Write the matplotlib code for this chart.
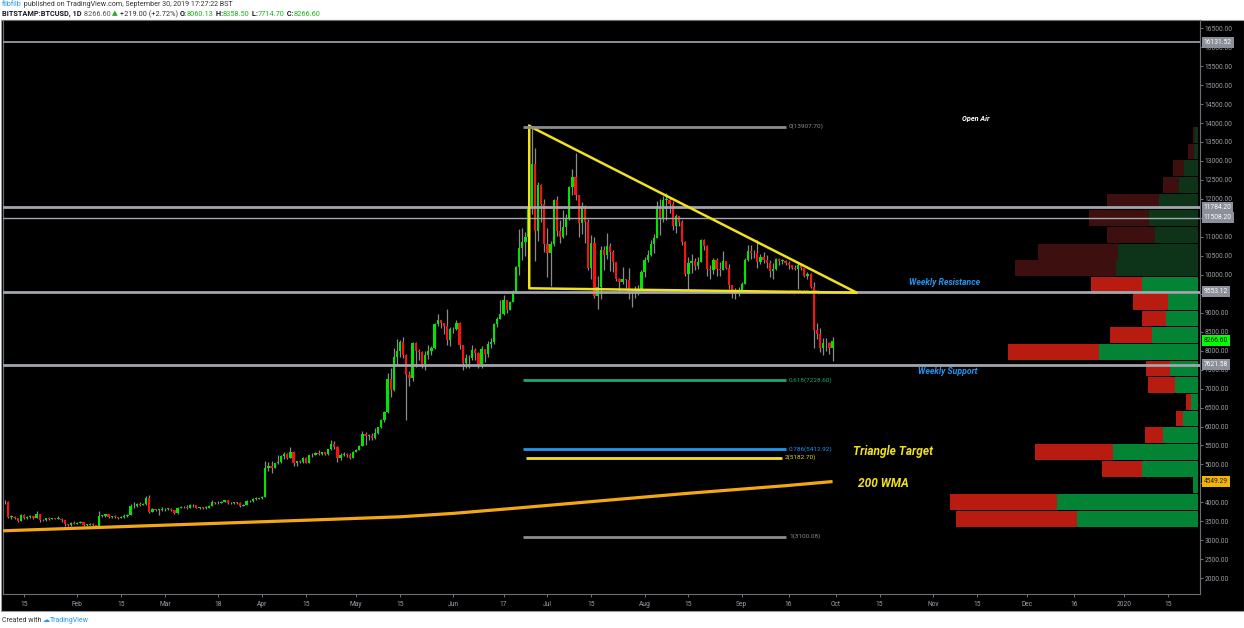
import numpy as np
import pandas as pd
import matplotlib
matplotlib.use("Agg")
import matplotlib.pyplot as plt
import matplotlib.dates as mdates
from matplotlib.patches import Rectangle
from matplotlib.ticker import FuncFormatter
from matplotlib.transforms import blended_transform_factory

plt.rcParams['font.family'] = ['Roboto', 'DejaVu Sans']

# ---- daily candles BITSTAMP:BTCUSD, from 2019-01-08 to 2019-09-30 ----
start_date = "2019-01-08"
first_open = 3990
closes = [
    # Jan 8-31
    4000, 4000, 3620, 3620, 3590, 3500, 3660, 3580, 3610, 3640, 3590, 3690, 3530, 3540, 3580, 3560, 3580, 3570, 3570, 3530, 3430, 3400, 3460, 3440,
    # Feb
    3460, 3490, 3410, 3410, 3440, 3400, 3390, 3650, 3650, 3690, 3610, 3630, 3610, 3590, 3610, 3630, 3680, 3900, 3910, 3970, 3930, 3970, 4120, 3740, 3820, 3800, 3810, 3820,
    # Mar
    3830, 3830, 3800, 3710, 3860, 3870, 3880, 3860, 3940, 3920, 3860, 3870, 3860, 3860, 3910, 4000, 3980, 3990, 4020, 4050, 3980, 3990, 4000, 3990, 3910, 3930, 4040, 4030, 4100, 4100, 4110,
    # Apr
    4140, 4900, 4970, 4910, 5030, 5060, 5210, 5280, 5180, 5330, 5030, 5080, 5070, 5170, 5050, 5240, 5260, 5310, 5280, 5320, 5280, 5400, 5540, 5450, 5170, 5250, 5270, 5250, 5180, 5340,
    # May
    5390, 5490, 5800, 5750, 5760, 5690, 5830, 5990, 6170, 6380, 7240, 6950, 7820, 7990, 8220, 7880, 7360, 7270, 8200, 7980, 7970, 7640, 7890, 8000, 8070, 8710, 8800, 8730, 8660, 8280, 8560,
    # Jun
    8560, 8740, 8150, 7680, 7800, 7800, 8010, 7940, 7640, 8030, 7920, 8180, 8240, 8690, 8830, 8960, 9330, 9080, 9280, 9530, 10200, 10700, 10860, 11000, 11750, 12930, 11150, 12370, 11870, 10810,
    # Jul
    10580, 10800, 11970, 11160, 10990, 11250, 11480, 12300, 12580, 12100, 11360, 11810, 11380, 10190, 10850, 9430, 9680, 10640, 10530, 10760, 10590, 10330, 9880, 9800, 9890, 9860, 9480, 9540, 9520, 9600, 10080,
    # Aug
    10400, 10530, 10820, 10970, 11800, 11460, 11980, 11980, 11870, 11290, 11560, 11400, 10860, 10020, 10300, 10360, 10220, 10330, 10920, 10760, 10140, 10130, 10400, 10140, 10130, 10370, 10190, 9720, 9490, 9580, 9590,
    # Sep
    9760, 10390, 10620, 10570, 10570, 10330, 10480, 10400, 10310, 10100, 10160, 10420, 10360, 10360, 10310, 10270, 10190, 10160, 10270, 10170, 9980, 10030, 9690, 8540, 8440, 8070, 8190, 8210, 8060.13, 8266.60,
]
highs = [
    4100, 4050, 4030, 3680, 3640, 3600, 3690, 3690, 3650, 3660, 3650, 3770, 3700, 3570, 3600, 3620, 3600, 3590, 3650, 3580, 3540, 3440, 3480, 3500,
    3480, 3510, 3490, 3430, 3460, 3450, 3410, 3780, 3680, 3700, 3690, 3650, 3660, 3620, 3650, 3690, 3700, 3950, 4000, 3990, 4000, 3990, 4160, 4190, 3850, 3830, 3830, 3880,
    3860, 3850, 3840, 3810, 3880, 3910, 3910, 3920, 3950, 3950, 3940, 3880, 3890, 3900, 3930, 4070, 4010, 4040, 4040, 4070, 4070, 4010, 4010, 4000, 4000, 3960, 4060, 4050, 4120, 4130, 4120,
    4160, 5100, 5060, 5100, 5050, 5240, 5250, 5340, 5290, 5460, 5350, 5100, 5110, 5190, 5200, 5260, 5310, 5340, 5380, 5340, 5340, 5410, 5640, 5620, 5490, 5290, 5330, 5300, 5290, 5350,
    5410, 5520, 5880, 5850, 5790, 5820, 5950, 6000, 6200, 6400, 7400, 7540, 8080, 8300, 8290, 8360, 7900, 7460, 8230, 8220, 8040, 7990, 7980, 8150, 8120, 8730, 8960, 8800, 8730, 9100, 8620,
    8620, 8820, 8750, 8160, 7920, 7880, 8150, 8060, 7960, 8120, 8050, 8250, 8330, 8740, 8880, 9330, 9470, 9340, 9300, 9600, 10230, 11200, 11240, 11130, 11780, 13880, 13330, 12450, 12400, 12000,
    11220, 10900, 12000, 12070, 11450, 11700, 11590, 12350, 12800, 13200, 12100, 11930, 11840, 11480, 11050, 11000, 9970, 10750, 10750, 11100, 10830, 10660, 10340, 9920, 10200, 9900, 10190, 9600, 9700, 9720, 10120,
    10460, 10660, 10920, 11080, 11950, 12000, 12070, 12150, 12040, 11950, 11590, 11560, 11450, 10880, 10470, 10540, 10450, 10480, 10940, 10940, 10780, 10250, 10440, 10430, 10340, 10620, 10370, 10290, 9730, 9650, 9680,
    9800, 10440, 10790, 10790, 10640, 10910, 10560, 10590, 10530, 10400, 10300, 10450, 10450, 10410, 10390, 10350, 10270, 10250, 10300, 10320, 10190, 10080, 10050, 9820, 8740, 8590, 8320, 8320, 8230, 8358.50,
]
lows = [
    3960, 3960, 3580, 3570, 3560, 3480, 3500, 3560, 3570, 3580, 3560, 3580, 3490, 3510, 3500, 3540, 3550, 3550, 3560, 3480, 3380, 3380, 3390, 3420,
    3420, 3450, 3390, 3390, 3410, 3370, 3370, 3380, 3610, 3610, 3600, 3580, 3590, 3570, 3580, 3600, 3620, 3660, 3850, 3880, 3900, 3920, 3940, 3730, 3740, 3770, 3680, 3780,
    3780, 3800, 3780, 3690, 3700, 3840, 3860, 3830, 3850, 3880, 3840, 3820, 3830, 3830, 3860, 3900, 3950, 3960, 3980, 4000, 3950, 3960, 3970, 3960, 3890, 3900, 3920, 4000, 4020, 4070, 4080,
    4090, 4140, 4820, 4780, 4900, 5020, 5050, 5150, 5150, 5170, 4950, 4970, 5040, 5030, 5040, 5040, 5200, 5250, 5240, 5260, 5240, 5260, 5370, 5410, 5060, 5120, 5230, 5190, 5150, 5170,
    5330, 5380, 5480, 5500, 5640, 5650, 5680, 5810, 5970, 6130, 6350, 6770, 6940, 7620, 7840, 7800, 6180, 7060, 7210, 7580, 7740, 7540, 7500, 7790, 7890, 8040, 8650, 8600, 8440, 8160, 8110,
    8460, 8540, 8050, 7480, 7530, 7550, 7750, 7760, 7540, 7550, 7710, 7840, 8080, 8170, 8610, 8830, 8940, 8980, 9060, 9270, 9520, 10000, 10400, 10500, 10960, 11600, 10350, 10900, 11400, 10600,
    9950, 9700, 10770, 11020, 10850, 10960, 11040, 11450, 12100, 11980, 11000, 11070, 10830, 10130, 9900, 9380, 9090, 9370, 10120, 10420, 10110, 10060, 9840, 9580, 9750, 9660, 9360, 9150, 9400, 9470, 9590,
    9930, 10340, 10500, 10580, 10960, 11060, 11400, 11450, 11630, 11180, 11110, 11280, 10790, 9970, 9600, 10040, 10130, 10160, 10330, 10650, 9980, 9900, 10030, 9980, 9980, 10130, 10150, 9620, 9400, 9350, 9440,
    9550, 9750, 10370, 10420, 10450, 10170, 10280, 10310, 10170, 9950, 9900, 10120, 10260, 10280, 10250, 10150, 10150, 10120, 9620, 10130, 9940, 9880, 9650, 8060, 8300, 7960, 7890, 8000, 7920, 7714.70,
]

# 200 week weighted moving average
wma_dates = ["2019-01-08", "2019-03-01", "2019-04-15", "2019-05-15", "2019-06-01", "2019-06-22",
             "2019-07-15", "2019-08-15", "2019-09-15", "2019-09-30"]
wma_values = [3250, 3400, 3530, 3620, 3710, 3855, 4020, 4240, 4440, 4549.29]

# horizontal levels
level_prices = [16131.52, 11784.20, 11508.20, 9553.12, 7621.58]
level_widths = [1.2, 2.0, 1.0, 2.0, 2.0]

# descending triangle drawing
tri_dates = ["2019-06-25 05:00", "2019-06-25 05:00", "2019-10-07 17:00", "2019-06-25 05:00"]
tri_prices = [13921, 9643, 9527, 13921]

# fib retracement 13907.70 -> 3100.08
fib_start, fib_end = "2019-06-23 05:00", "2019-09-15 03:00"
fib_levels = [0, 0.618, 0.786, 1]
fib_prices = [13907.70, 7228.60, 5412.92, 3100.08]
fib_colors = ['#8c8c8c', '#1fa37c', '#2196f3', '#8c8c8c']
# trend based fib (only level 2 visible)
ext_start, ext_end = "2019-06-24 05:00", "2019-09-13 19:00"
ext_price = 5182.70

# visible range volume profile, 24 rows, top row first
vp_bottom = 3349
vp_row = 440
vp_up = [3, 4, 14, 19, 39, 49, 43, 80, 82, 56, 30, 32, 46, 99, 28, 23, 7, 15, 35, 85, 56, 5, 141, 121]
vp_down = [2, 6, 11, 16, 52, 60, 48, 80, 101, 51, 35, 24, 42, 91, 24, 27, 5, 7, 18, 78, 40, 0, 107, 121]
vp_value_area_top = 9949

x_tick_dates = ["2019-01-15", "2019-02-01", "2019-02-15", "2019-03-01", "2019-03-18", "2019-04-01", "2019-04-15",
                "2019-05-01", "2019-05-15", "2019-06-01", "2019-06-17", "2019-07-01", "2019-07-15", "2019-08-01",
                "2019-08-15", "2019-09-01", "2019-09-16", "2019-10-01", "2019-10-15", "2019-11-01", "2019-11-15",
                "2019-12-01", "2019-12-16", "2020-01-01", "2020-01-15"]
x_tick_labels = ["15", "Feb", "15", "Mar", "18", "Apr", "15", "May", "15", "Jun", "17", "Jul", "15", "Aug",
                 "15", "Sep", "16", "Oct", "15", "Nov", "15", "Dec", "16", "2020", "15"]
# price ticks hidden behind the level boxes
hidden_ticks = [4500, 9500, 11500]

W, H = 1244, 628
fig = plt.figure(figsize=(W / 100, H / 100), dpi=100)
fig.patch.set_facecolor('white')

# black chart panel incl. axes strips (behind the axes)
fig.patches.append(Rectangle((0.5 / W, 1 - 611 / H), 1243 / W, 591 / H, transform=fig.transFigure,
                             facecolor='black', edgecolor='#9a9a9a', lw=0.8, zorder=-5))

ax = fig.add_axes([3 / W, 1 - 594 / H, 1197 / W, 574 / H])
ax.set_zorder(2)
ax.set_facecolor('black')
d2n = lambda s: mdates.date2num(pd.Timestamp(s))

# candles
dates = pd.date_range(start_date, periods=len(closes), freq="D")
x = mdates.date2num(dates)
c = np.array(closes, dtype=float)
o = np.array([first_open] + closes[:-1], dtype=float)
up = c >= o
ax.vlines(x, lows, highs, color='#8a8a8a', lw=0.9, zorder=2)
bot = np.minimum(o, c)
hgt = np.maximum(np.abs(c - o), 16)
ax.bar(x[up], hgt[up], bottom=bot[up], width=0.72, color='#00e600', lw=0, zorder=3)
ax.bar(x[~up], hgt[~up], bottom=bot[~up], width=0.72, color='#ff1010', lw=0, zorder=3)

# volume profile on the right
trans = blended_transform_factory(ax.transAxes, ax.transData)
vp_scale = 0.207 / max(u + d for u, d in zip(vp_up, vp_down))
n_rows = len(vp_up)
for i in range(n_rows):
    lo = vp_bottom + (n_rows - 1 - i) * vp_row
    bright = lo < vp_value_area_top
    gcol = '#038434' if bright else '#0d3419'
    rcol = '#b81c10' if bright else '#3d0f0e'
    wu = vp_up[i] * vp_scale
    wd = vp_down[i] * vp_scale
    ax.add_patch(Rectangle((1 - 0.002 - wu, lo + 12), wu, vp_row - 24, transform=trans,
                           facecolor=gcol, lw=0, zorder=1))
    ax.add_patch(Rectangle((1 - 0.002 - wu - wd, lo + 12), wd, vp_row - 24, transform=trans,
                           facecolor=rcol, lw=0, zorder=1))

# horizontal levels
for p, lw in zip(level_prices, level_widths):
    ax.axhline(p, color='#a3a6ad', lw=lw, zorder=4)

# 200 WMA
ax.plot([d2n(d) for d in wma_dates], wma_values, color='#f3a712', lw=2.3, zorder=4,
        solid_capstyle='butt')

# triangle
ax.plot([d2n(d) for d in tri_dates], tri_prices, color='#f2e21c', lw=1.8, zorder=5)

# fib lines
for lv, p, col in zip(fib_levels, fib_prices, fib_colors):
    ax.hlines(p, d2n(fib_start), d2n(fib_end), color=col, lw=2.0, zorder=5)
    ax.text(d2n(fib_end) + 1, p, "%g(%.2f)" % (lv, p), color=col, fontsize=4.6,
            ha='left', va='center', zorder=6)
ax.hlines(ext_price, d2n(ext_start), d2n(ext_end), color='#f2e21c', lw=2.0, zorder=5)
ax.text(d2n(ext_end) + 1, ext_price, "2(%.2f)" % ext_price, color='#e8d81c', fontsize=4.6,
        ha='left', va='center', zorder=6)
ax.text(d2n(fib_end) + 1, 9543, "1(9543.05)", color='#6f6f6f', fontsize=4.6,
        ha='left', va='center', zorder=4)

# annotations
ax.text(d2n("2019-11-10 06:00"), 14130, "Open Air", color='white', fontsize=5.2,
        fontweight='bold', fontstyle='italic', ha='left', va='center', zorder=6)
ax.text(d2n("2019-10-24 10:00"), 9783, "Weekly Resistance", color='#2196f3', fontsize=6.2,
        fontweight='bold', fontstyle='italic', ha='left', va='center', zorder=6)
ax.text(d2n("2019-10-27 08:00"), 7437, "Weekly Support", color='#2196f3', fontsize=6.2,
        fontweight='bold', fontstyle='italic', ha='left', va='center', zorder=6)
ax.text(d2n("2019-10-06 12:00"), 5329, "Triangle Target", color='#f2e21c', fontsize=8.6,
        fontweight='bold', fontstyle='italic', ha='left', va='center', zorder=6)
ax.text(d2n("2019-10-08 03:00"), 4485, "200 WMA", color='#f2e21c', fontsize=8.6,
        fontweight='bold', fontstyle='italic', ha='left', va='center', zorder=6)

# axes setup
ax.set_xlim(d2n("2019-01-08 07:12"), d2n("2020-01-25 05:45"))
ax.set_ylim(1585, 16715)
ax.yaxis.tick_right()
ax.set_yticks(np.arange(2000, 16501, 500))
ax.yaxis.set_major_formatter(FuncFormatter(lambda v, pos: "" if round(v) in hidden_ticks else "%.2f" % v))
ax.set_xticks([d2n(d) for d in x_tick_dates])
ax.set_xticklabels(x_tick_labels)
ax.tick_params(axis='y', colors='#9ea1a8', labelsize=4.8, length=2, width=0.5, pad=1.5)
ax.tick_params(axis='x', colors='#9ea1a8', labelsize=4.8, length=2, width=0.5, pad=3)
for s in ax.spines.values():
    s.set_color('#6b6e75')
    s.set_linewidth(0.8)

# price axis labels
def axis_label(price, txt, bg, fg):
    ax.text(1.003, price, txt, transform=trans, ha='left', va='center', fontsize=4.8, color=fg,
            bbox=dict(boxstyle='square,pad=0.3', fc=bg, ec='none'), clip_on=False, zorder=10)

for p in level_prices:
    axis_label(p, "%.2f" % p, '#8b8f99', 'white')
axis_label(closes[-1], "%.2f" % closes[-1], '#00ff00', '#111111')
axis_label(wma_values[-1], "%.2f" % wma_values[-1], '#f5b400', '#222222')

# header
renderer = fig.canvas.get_renderer()

def chain(parts, xpx, ypx, size):
    xf = xpx / W
    for s, col, wt in parts:
        t = fig.text(xf, 1 - ypx / H, s, color=col, fontsize=size, fontweight=wt, ha='left', va='center')
        xf = t.get_window_extent(renderer=renderer).x1 / W

chain([("filbfilb", '#2196f3', 'normal'),
       (" published on TradingView.com, September 30, 2019 17:27:22 BST", '#333333', 'normal')], 2, 5, 5.1)
chain([("BITSTAMP:BTCUSD, 1D", '#131722', 'bold'), (" 8266.60 ", '#555555', 'normal'),
       ("\u25b2", '#22aa22', 'normal'), (" +219.00 (+2.72%) ", '#333333', 'normal'),
       ("O:", '#131722', 'bold'), ("8060.13", '#1db31d', 'normal'),
       (" H:", '#131722', 'bold'), ("8358.50", '#1db31d', 'normal'),
       (" L:", '#131722', 'bold'), ("7714.70", '#1db31d', 'normal'),
       (" C:", '#131722', 'bold'), ("8266.60", '#1db31d', 'normal')], 2, 14, 5.3)
chain([("Created with ", '#333333', 'normal'), ("\u2601", '#2196f3', 'normal'),
       ("TradingView", '#2196f3', 'normal')], 2, 620, 5)

fig.savefig("out.png", dpi=100, facecolor='white')
